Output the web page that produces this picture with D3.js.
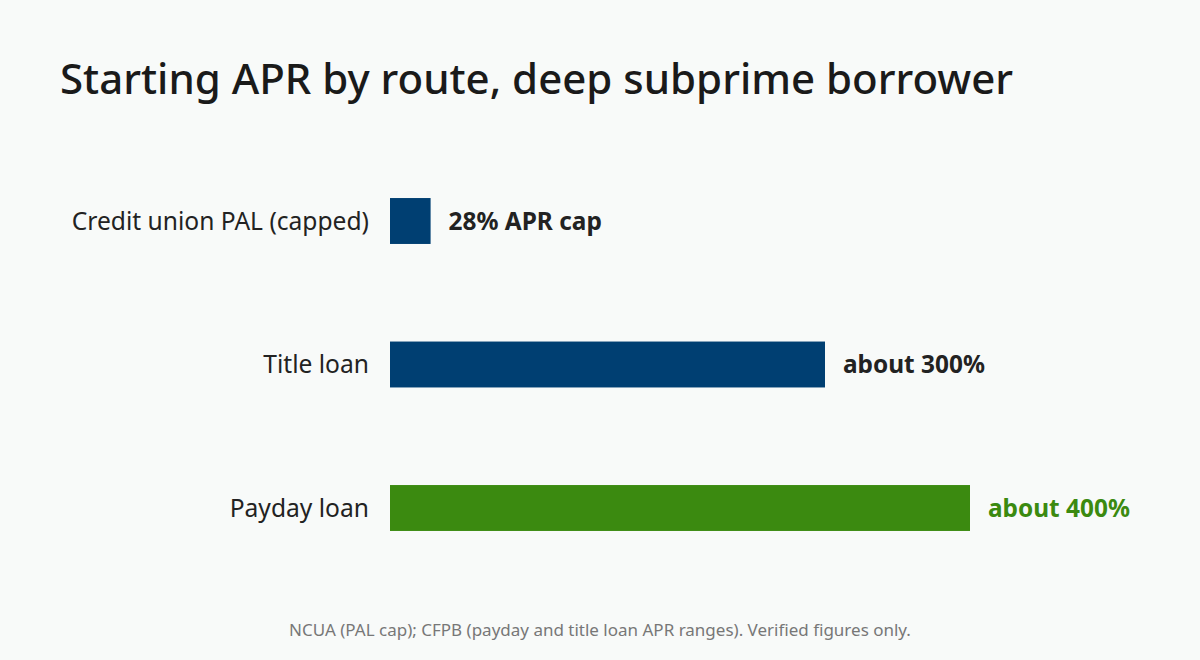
<!DOCTYPE html>
<html><head><meta charset="utf-8">
<script src="https://cdn.jsdelivr.net/npm/d3@7"></script>
<style>body{margin:0;background:#f8faf9;font-family:"Noto Sans","Open Sans",sans-serif}</style>
</head><body><svg id="c" width="1200" height="660"></svg>
<script>
const categories = ["Credit union PAL (capped)", "Title loan", "Payday loan"];
const values = [28, 300, 400];
const valueLabels = ["28% APR cap", "about 300%", "about 400%"];
const barColors = ["#003f72", "#003f72", "#3b8a10"];
const labelColors = ["#222222", "#222222", "#3b8a10"];

const svg = d3.select("#c");
svg.append("rect").attr("width",1200).attr("height",660).attr("fill","#f8faf9");
svg.append("text").attr("x",60).attr("y",94).attr("font-size",42).attr("font-weight",500)
  .attr("fill","#1a1a1a").text("Starting APR by route, deep subprime borrower");

const x = d3.scaleLinear().domain([0,400]).range([390,970]);
const y = d3.scaleBand().domain(categories).range([149.25,579.75]).paddingInner(0.68).paddingOuter(0.34);

const g = svg.append("g");
categories.forEach((c,i)=>{
  const yc = y(c) + y.bandwidth()/2;
  g.append("rect").attr("x",x(0)).attr("y",y(c)).attr("width",x(values[i])-x(0))
    .attr("height",y.bandwidth()).attr("fill",barColors[i]);
  g.append("text").attr("x",369).attr("y",yc).attr("dy","0.35em").attr("text-anchor","end")
    .attr("font-size",24.6).attr("fill","#222").text(c);
  g.append("text").attr("x",x(values[i])+18).attr("y",yc).attr("dy","0.35em")
    .attr("font-size",24.4).attr("font-weight",700).attr("fill",labelColors[i]).text(valueLabels[i]);
});

svg.append("text").attr("x",600).attr("y",636).attr("text-anchor","middle").attr("font-size",17)
  .attr("fill","#777").text("NCUA (PAL cap); CFPB (payday and title loan APR ranges). Verified figures only.");
</script></body></html>
